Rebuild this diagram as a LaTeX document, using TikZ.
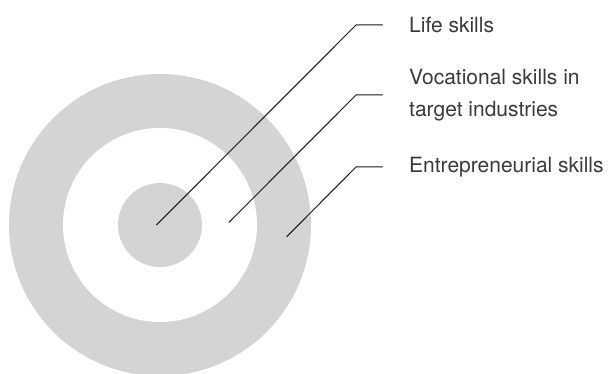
\documentclass[tikz,border=0pt]{standalone}
\usepackage{fontspec}
\setmainfont{TeX Gyre Heros}
\definecolor{ring}{HTML}{D4D4D4}
\definecolor{ink}{HTML}{3A3A3A}
\tikzset{
  lbl/.style={anchor=west, inner sep=0pt, text=ink, align=left,
    font=\fontsize{21}{31.5}\selectfont},
  lead/.style={draw=black!90, line width=1pt}
}
\begin{document}
\begin{tikzpicture}[x=1pt, y=-1pt, line join=round, line cap=round]
\useasboundingbox (0,0) rectangle (611,374);
% target rings
\foreach \r/\c in {151/ring, 97/white, 42/ring}
\fill[\c] (160,225) circle (\r);
\coordinate (dot1) at (156.6,224.8);
\coordinate (dot2) at (229,222.3);
\coordinate (dot3) at (286.7,236.7);
% labels
\node[lbl] (life) at (409,25) {Life skills};
\node[lbl] (voc) at (409,95) {Vocational skills in\\target industries};
\node[lbl] (entr) at (409,167) {Entrepreneurial skills};
% leaders
\foreach \d/\n in {dot1/life, dot2/voc, dot3/entr}
\draw[lead] (\d) -- ([xshift=-53pt]\n.west) -- ([xshift=-26.5pt]\n.west);
\end{tikzpicture}
\end{document}
